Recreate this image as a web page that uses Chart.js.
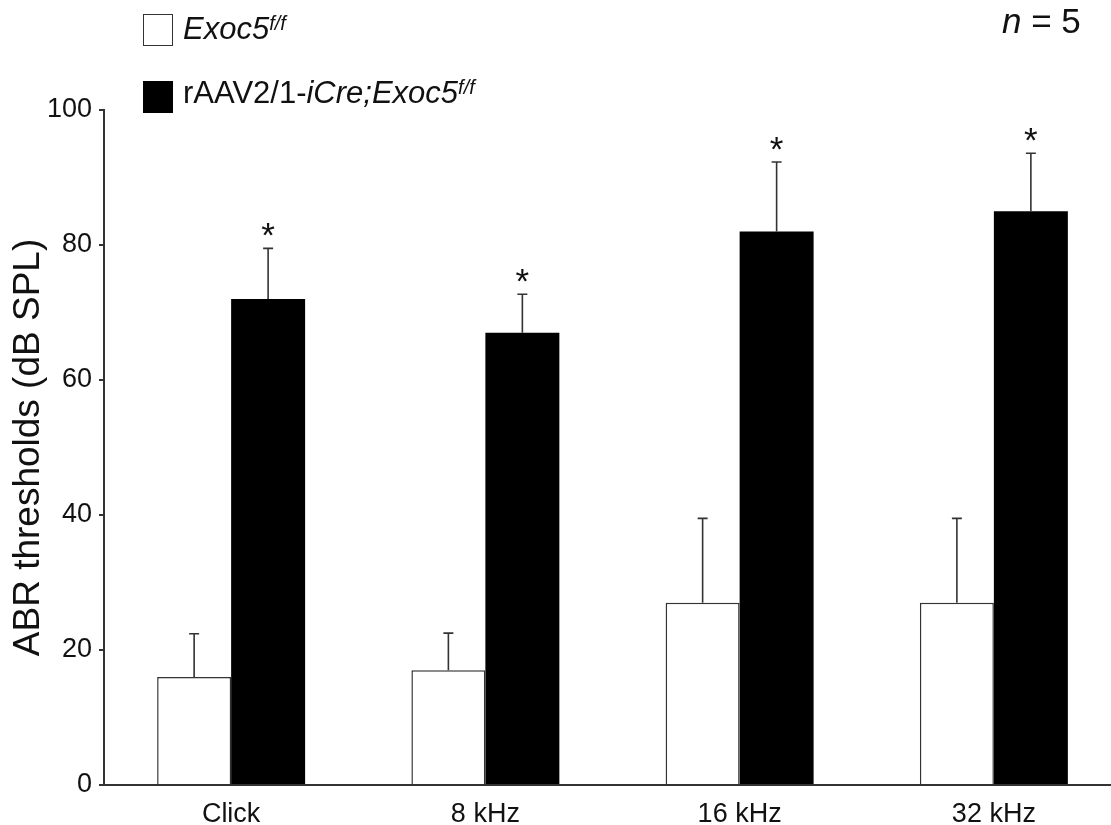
<!DOCTYPE html>
<html>
<head>
<meta charset="utf-8">
<script src="https://cdn.jsdelivr.net/npm/chart.js@4"></script>
<style>
  body { margin: 0; overflow: hidden; background: #fff; }
  #wrap { position: relative; width: 1111px; height: 825px; overflow: hidden; }
  canvas { position: absolute; left: 0; top: 0; }
  .txt { position: absolute; font-family: "Liberation Sans", Arial, sans-serif; color: #111; line-height: 1; white-space: nowrap; }
  .sup { position: relative; top: -9px; font-size: 20px; font-style: italic; }
  .box { position: absolute; width: 30px; height: 32px; box-sizing: border-box; }
</style>
</head>
<body>
<div id="wrap">
  <canvas id="myChart" width="1125" height="825"></canvas>
  <div class="box" style="left:143px; top:14px; border:1.5px solid #333; background:#fff;"></div>
  <div class="txt" style="left:183px; top:13px; font-size:31px;"><i>Exoc5</i><span class="sup">f/f</span></div>
  <div class="box" style="left:143px; top:81px; background:#000;"></div>
  <div class="txt" style="left:183px; top:77px; font-size:31px;">rAAV2/1-<i>iCre;Exoc5</i><span class="sup">f/f</span></div>
  <div class="txt" style="left:1002px; top:3px; font-size:35px;"><i>n</i> = 5</div>
</div>
<script>
const categories = ['Click', '8 kHz', '16 kHz', '32 kHz'];
const controlValues = [16, 17, 27, 27];
const controlErrors = [6.4, 5.5, 12.5, 12.5];
const creValues = [72, 67, 82, 85];
const creErrors = [7.5, 5.7, 10.3, 8.6];
const creMarks = ['*', '*', '*', '*'];

Chart.defaults.font.family = '"Liberation Sans", Arial, sans-serif';
Chart.defaults.color = '#111';

// draws the upward error bars and the significance stars
const errorBars = {
    id: 'errorBars',
    afterDatasetsDraw(chart) {
        var ctx = chart.ctx;
        var yScale = chart.scales.y;
        ctx.save();
        ctx.strokeStyle = '#333';
        ctx.lineWidth = 1.6;
        chart.data.datasets.forEach(function (ds, i) {
            var meta = chart.getDatasetMeta(i);
            meta.data.forEach(function (bar, j) {
                var yBase = yScale.getPixelForValue(ds.data[j]);
                var yTop = yScale.getPixelForValue(ds.data[j] + ds.errors[j]);
                ctx.beginPath();
                ctx.moveTo(bar.x, yBase);
                ctx.lineTo(bar.x, yTop);
                ctx.moveTo(bar.x - 5, yTop);
                ctx.lineTo(bar.x + 5, yTop);
                ctx.stroke();
                if (ds.marks && ds.marks[j]) {
                    ctx.fillStyle = '#111';
                    ctx.font = '35px "Liberation Sans", Arial, sans-serif';
                    ctx.textAlign = 'center';
                    ctx.textBaseline = 'alphabetic';
                    ctx.fillText(ds.marks[j], bar.x, yTop - 1);
                }
            });
        });
        ctx.restore();
    }
};

var ctx = document.getElementById('myChart').getContext('2d');

var myChart = new Chart(ctx, {
    type: 'bar',
    data: {
        labels: categories,
        datasets: [{
            label: 'Exoc5 f/f',
            data: controlValues,
            errors: controlErrors,
            backgroundColor: '#fff',
            borderColor: '#333',
            borderWidth: 1.5,
            borderSkipped: 'bottom'
        }, {
            label: 'rAAV2/1-iCre;Exoc5 f/f',
            data: creValues,
            errors: creErrors,
            marks: creMarks,
            backgroundColor: '#000',
            borderColor: '#000',
            borderWidth: 0
        }]
    },
    options: {
        responsive: false,
        animation: false,
        categoryPercentage: 0.582,
        barPercentage: 1,
        layout: { padding: { top: 110, right: 4, left: 0, bottom: 0 } },
        plugins: {
            legend: { display: false },
            tooltip: { enabled: false }
        },
        scales: {
            x: {
                grid: { display: false },
                border: { color: '#333', width: 2 },
                ticks: { font: { size: 27 }, color: '#111', padding: 5 },
                afterFit: function (scale) { scale.height = 40; }
            },
            y: {
                min: 0,
                max: 100,
                grid: { drawOnChartArea: false, drawTicks: true, tickLength: 5, color: '#333', lineWidth: 2 },
                border: { color: '#333', width: 2 },
                ticks: { stepSize: 20, font: { size: 27 }, color: '#111', padding: 7 },
                title: {
                    display: true,
                    text: 'ABR thresholds (dB SPL)',
                    font: { size: 37 },
                    color: '#111',
                    padding: { top: 7, bottom: 0 }
                },
                afterFit: function (scale) { scale.width = 104; }
            }
        }
    },
    plugins: [errorBars]
});
</script>
</body>
</html>
